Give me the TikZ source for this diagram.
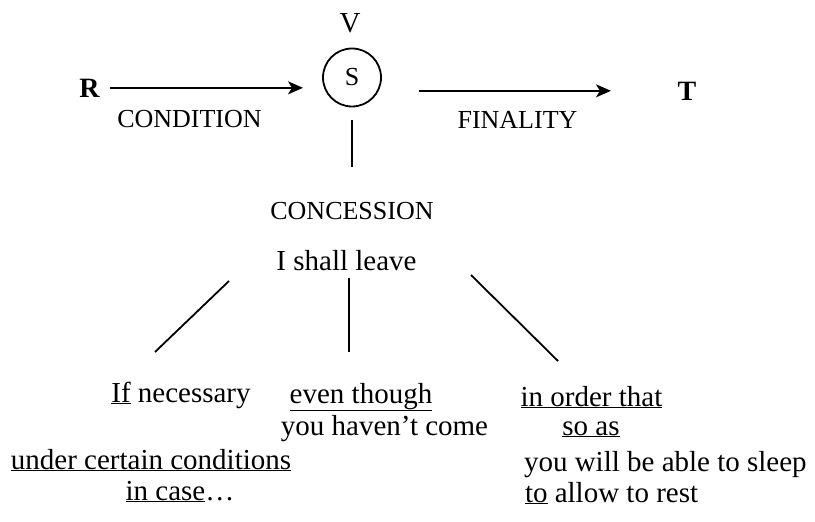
\documentclass[tikz,border=0pt]{standalone}
\usepackage{fontspec}
\setmainfont{Liberation Serif}
\usetikzlibrary{positioning,arrows.meta,calc}

\begin{document}
\begin{tikzpicture}[
  x=1pt,y=-1pt,
  lbl/.style={font=\fontsize{26}{30}\selectfont,inner sep=0pt,outer sep=0pt,anchor=base},
  txt/.style={font=\fontsize{29}{34}\selectfont,inner sep=0pt,outer sep=0pt,anchor=base},
  pole/.style={font=\fontsize{28}{32}\selectfont\bfseries,inner sep=0pt,outer sep=0pt,anchor=base},
  verbnode/.style={circle,draw,line width=1.8pt,minimum size=58pt,inner sep=0pt,outer sep=0pt,font=\fontsize{26}{30}\selectfont},
  dep/.style={-{Stealth[length=15pt,width=13pt,inset=4pt]},line width=1.8pt},
  link/.style={line width=1.8pt},
]
\useasboundingbox (0,0) rectangle (815,522);

% === TOP: R -> S -> T ===
\node[verbnode] (S) at (352,77.5) {S};
\node[lbl,font=\fontsize{29}{34}\selectfont] (V) at (350,32) {V};
\node[pole] (R) at (89.5,97) {R};
\node[pole] (T) at (687,100) {T};

\draw[dep,shorten <=10.5pt,shorten >=20pt] (R.east) -- (R.east -| S.west);
\draw[dep,shorten <=38pt,shorten >=66.7pt] (S.east |- T.west) -- (T.west);

\node[lbl] (cond) at (189.5,127) {CONDITION};
\node[lbl] (fin) at (517.5,128) {FINALITY};

% === CONCESSION ===
\node[lbl] (conc) at (352,219) {CONCESSION};
\draw[link,shorten <=13.5pt,shorten >=34.4pt] (S) -- (conc);

\node[txt] (leave) at (346.5,270) {I shall leave};

% branches (free ends)
\coordinate (b1) at (229,281); \coordinate (e1) at (155,352);
\coordinate (b2) at (349,278); \coordinate (e2) at (349,352);
\coordinate (b3) at (471,275); \coordinate (e3) at (558,361);
\draw[link] (b1) -- (e1);
\draw[link] (b2) -- (e2);
\draw[link] (b3) -- (e3);

% === EXAMPLES ===
\node[txt] (ifnec) at (181,402) {\underline{If} necessary};
\node[txt] (cond1) at (151,469) {\underline{under certain conditions}};
\node[txt] (cond2) at (180,500) {\underline{in case}\ldots};

\node[txt] (even) at (361,403) {\underline{even though}};
\node[txt] (come) at (384.5,435) {you haven't come};

\node[txt] (order) at (591.5,406) {\underline{in order that}};
\node[txt] (soas) at (591,435) {\underline{so as}};
\node[txt,anchor=base west] (sleep) at (524,471) {you will be able to sleep};
\node[txt,anchor=base west] (rest) at (525,502) {\underline{to} allow to rest};

\end{tikzpicture}
\end{document}
